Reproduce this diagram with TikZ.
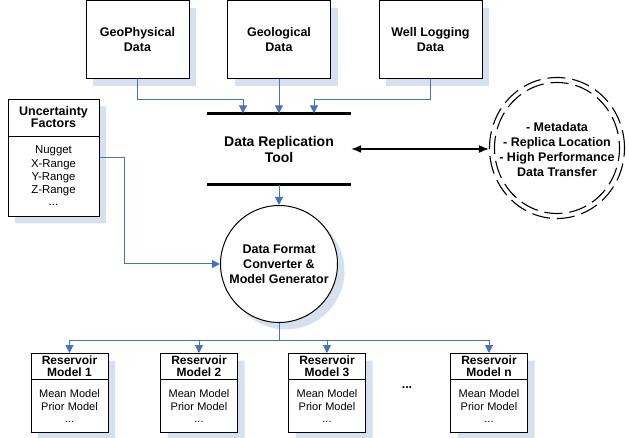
\documentclass[tikz,border=0pt]{standalone}
\usepackage{fontspec}
\setmainfont{Liberation Sans}
\usetikzlibrary{positioning,shapes.geometric,shapes.multipart,shadows,arrows.meta}
\definecolor{flowblue}{RGB}{68,114,196}
\definecolor{shadowblue}{RGB}{214,224,239}
\newcommand\bfbig{\fontsize{12.5}{15}\selectfont\bfseries}
\newcommand\bftool{\fontsize{14}{16}\selectfont\bfseries}
\newcommand\restitle{\fontsize{12}{13}\selectfont\bfseries}
\newcommand\resfont{\fontsize{11}{13}\selectfont}
\newcommand\listfont{\fontsize{11.4}{13.3}\selectfont}

\begin{document}
\begin{tikzpicture}[x=1pt, y=-1pt,
	shad/.style={drop shadow={shadow xshift=7pt, shadow yshift=-7pt,
		fill=shadowblue, opacity=1}},
	databox/.style={draw, line width=1pt, fill=white, shad,
		minimum width=103pt, minimum height=78pt, inner sep=0pt,
		align=center, font=\bfbig},
	splitbox/.style={draw, line width=1pt, fill=white, shad,
		rectangle split, rectangle split parts=2, inner xsep=3pt,
		inner ysep=1pt, align=center},
	replbox/.style={minimum width=144pt, minimum height=71pt, inner sep=0pt,
		align=center, font=\bftool},
	convcirc/.style={draw, circle, line width=1pt, fill=white, shad,
		minimum size=117pt, inner sep=0pt, align=center, font=\bfbig},
	metaline/.style={line width=1.1pt, dash pattern=on 18pt off 7pt},
	bar/.style={line width=2.6pt},
	flow/.style={draw=flowblue, line width=1pt,
		-{Triangle[length=8pt,width=8pt]}},
	flowline/.style={draw=flowblue, line width=1pt},
	biarrow/.style={line width=1.5pt,
		{Latex[length=10pt,width=8pt]}-{Latex[length=10pt,width=8pt]}}]
	\useasboundingbox (0,0) rectangle (629,438);
	% data sources
	\node[databox] (geo) at (137.5,40) {GeoPhysical\\Data};
	\node[databox] (geol) at (279,40) {Geological\\Data};
	\node[databox] (well) at (430.5,40) {Well Logging\\Data};
	% replication tool
	\node[replbox] (repl) at (279,149) {Data Replication\\Tool};
	\draw[bar] (repl.north west) -- (repl.north east);
	\draw[bar] (repl.south west) -- (repl.south east);
	\draw[flow] (geo.south) -- ++(0,20) -| ([xshift=-36pt]repl.north);
	\draw[flow] (geol.south) -- (repl.north);
	\draw[flow] (well.south) -- ++(0,20) -| ([xshift=35pt]repl.north);
	% metadata
	\node[metaline, draw, ellipse, minimum width=135pt, minimum height=141pt,
		inner sep=0pt] (meta) at (557,148) {};
	\draw[metaline, dash phase=11pt]
		(meta.center) ellipse [x radius=62.5pt, y radius=65.5pt];
	\node[align=center, font=\bfbig] (metatext) at (557,149.5)
		{- Metadata\\- Replica Location\\- High Performance\\Data Transfer};
	\draw[biarrow] (repl.east) -- (repl.east -| meta.west);
	% converter
	\node[convcirc] (conv) at (279,264) {Data Format\\Converter \&\\Model Generator};
	\draw[flow] (repl.south) -- (conv.north);
	\node[splitbox, text width=85pt, anchor=north] (unc) at (53.5,99)
		{\bfbig\rule{0pt}{15pt}Uncertainty\\Factors\rule[-7pt]{0pt}{7pt}
		\nodepart{two}\listfont\rule{0pt}{16pt}Nugget\\X-Range\\Y-Range\\Z-Range\\...\rule[-9pt]{0pt}{9pt}};
	\draw[flow] (unc.east) -- ++(25,0) |- (conv.west);
	% reservoir models
	\node[splitbox, text width=71pt, anchor=north] (res1) at (69.5,353)
		{\restitle\rule{0pt}{9pt}Reservoir\\Model 1\rule[-2pt]{0pt}{2pt}
		\nodepart{two}\resfont\rule{0pt}{16pt}Mean Model\\Prior Model\\...\rule[-9pt]{0pt}{9pt}};
	\node[splitbox, text width=71pt, anchor=north] (res2) at (199,353)
		{\restitle\rule{0pt}{9pt}Reservoir\\Model 2\rule[-2pt]{0pt}{2pt}
		\nodepart{two}\resfont\rule{0pt}{16pt}Mean Model\\Prior Model\\...\rule[-9pt]{0pt}{9pt}};
	\node[splitbox, text width=71pt, anchor=north] (res3) at (327,353)
		{\restitle\rule{0pt}{9pt}Reservoir\\Model 3\rule[-2pt]{0pt}{2pt}
		\nodepart{two}\resfont\rule{0pt}{16pt}Mean Model\\Prior Model\\...\rule[-9pt]{0pt}{9pt}};
	\node[splitbox, text width=71pt, anchor=north] (resn) at (489,353)
		{\restitle\rule{0pt}{9pt}Reservoir\\Model n\rule[-2pt]{0pt}{2pt}
		\nodepart{two}\resfont\rule{0pt}{16pt}Mean Model\\Prior Model\\...\rule[-9pt]{0pt}{9pt}};
	\node[font=\bfbig] (dots) at (407,388) {...};
	\coordinate (bus) at (279,340);
	\draw[flowline] (conv.south) -- (bus);
	\draw[flow] (bus) -| (res1.north);
	\draw[flow] (bus) -| (res2.north);
	\draw[flow] (bus) -| (res3.north);
	\draw[flow] (bus) -| (resn.north);
\end{tikzpicture}
\end{document}
